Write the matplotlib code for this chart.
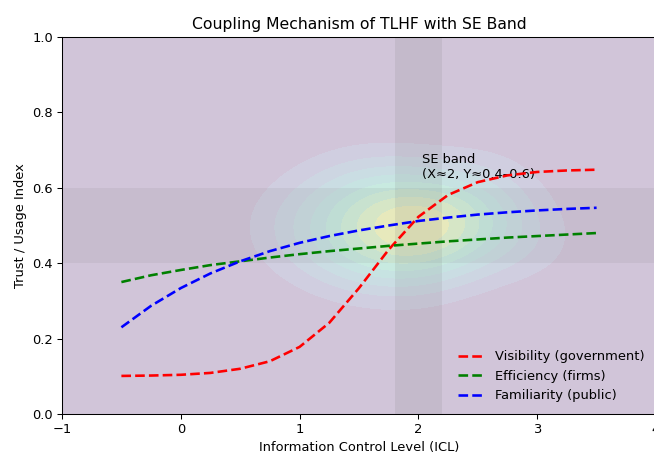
import numpy as np
import matplotlib
matplotlib.use("Agg")
import matplotlib.pyplot as plt
from matplotlib.colors import ListedColormap

# curve samples
icl = [-0.5, -0.25, 0.0, 0.25, 0.5, 0.75, 1.0, 1.25, 1.5, 1.75,
       2.0, 2.25, 2.5, 2.75, 3.0, 3.25, 3.5]
visibility = [0.101, 0.102, 0.104, 0.109, 0.120, 0.140, 0.178, 0.242, 0.334,
              0.436, 0.523, 0.581, 0.615, 0.633, 0.642, 0.646, 0.648]
efficiency = [0.350, 0.368, 0.382, 0.395, 0.405, 0.415, 0.424, 0.432, 0.439,
              0.446, 0.452, 0.458, 0.463, 0.468, 0.472, 0.476, 0.480]
familiarity = [0.230, 0.287, 0.334, 0.373, 0.405, 0.432, 0.454, 0.472, 0.487,
               0.500, 0.512, 0.521, 0.529, 0.535, 0.540, 0.544, 0.547]

# observations behind the density cloud
obs_x = [1.1, 1.5, 1.65, 1.8, 1.95, 2.05, 2.15, 2.35, 2.7, 1.35, 1.55, 2.25,
         2.9, 0.95, 1.75, 1.95, 2.45, 1.7, 2.1, 1.25, 2.55, 1.55, 2.25, 1.9]
obs_y = [0.54, 0.46, 0.56, 0.49, 0.53, 0.43, 0.52, 0.46, 0.50, 0.60, 0.40, 0.56,
         0.45, 0.48, 0.62, 0.38, 0.55, 0.44, 0.48, 0.42, 0.61, 0.52, 0.46, 0.55]

# simple gaussian kde on a grid
gx, gy = np.meshgrid(np.linspace(-1, 4, 300), np.linspace(0, 1, 300))
bw_x, bw_y = 0.36, 0.08
dens = np.zeros_like(gx)
for px, py in zip(obs_x, obs_y):
    dens += np.exp(-0.5 * (((gx - px) / bw_x) ** 2 + ((gy - py) / bw_y) ** 2))

# viridis faded onto white (same look as alpha=0.25, but no seams)
vir = plt.get_cmap("viridis")(np.linspace(0, 1, 256))
faded = ListedColormap(0.75 + 0.25 * vir[:, :3])

dpi = 93.5
fig = plt.figure(figsize=(654 / dpi, 455 / dpi), dpi=dpi)
ax = fig.add_axes([62 / 654, 41 / 455, 594 / 654, 377 / 455])

ax.contourf(gx, gy, dens, levels=np.linspace(0, dens.max(), 10), cmap=faded)

ax.axvspan(1.8, 2.2, color="gray", alpha=0.15, lw=0)
ax.axhspan(0.4, 0.6, color="gray", alpha=0.12, lw=0)

ax.text(2.03, 0.625, "SE band\n(X≈2, Y≈0.4–0.6)", fontsize=10, zorder=1.5)

ax.plot(icl, visibility, "r--", lw=2, label="Visibility (government)")
ax.plot(icl, efficiency, "g--", lw=2, label="Efficiency (firms)")
ax.plot(icl, familiarity, "b--", lw=2, label="Familiarity (public)")

ax.set_xlim(-1, 4)
ax.set_ylim(0, 1)
ax.set_title("Coupling Mechanism of TLHF with SE Band")
ax.set_xlabel("Information Control Level (ICL)")
ax.set_ylabel("Trust / Usage Index")
ax.legend(loc="lower right", frameon=False)

fig.savefig("out.png", dpi=dpi)
